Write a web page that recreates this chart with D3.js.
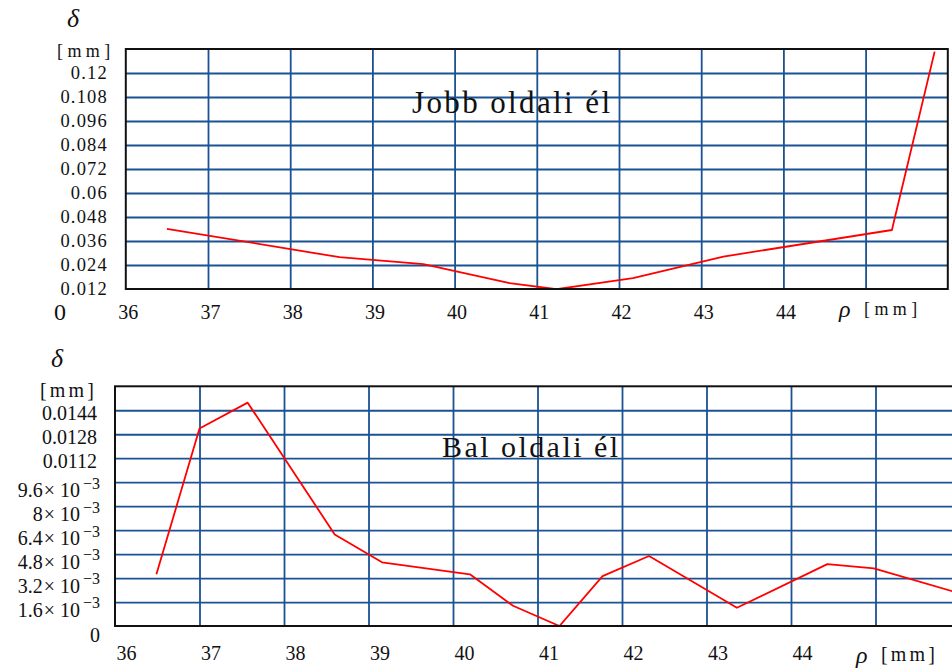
<!DOCTYPE html>
<html><head><meta charset="utf-8">
<script src="https://cdn.jsdelivr.net/npm/d3@7"></script>
<style>
body{margin:0;background:#fff}
svg{display:block}
text{font-family:"Liberation Serif","Times New Roman",serif;fill:#111}
</style>
</head><body>
<svg id="c" width="952" height="668"></svg>
<script>
// ---- data ----
const xGridValues = [37,38,39,40,41,42,43,44,45];
const xTickValues = [36,37,38,39,40,41,42,43,44];
const xTickLabels = ["36","37","38","39","40","41","42","43","44"];

const topYTicks  = [0.012,0.024,0.036,0.048,0.06,0.072,0.084,0.096,0.108,0.12];
const topYLabels = ["0.012","0.024","0.036","0.048","0.06","0.072","0.084","0.096","0.108","0.12"];
const topRho   = [36.5, 38.6, 39.62, 40.67, 41.24, 42.17, 43.27, 45.32, 45.84];
const topDelta = [0.0421, 0.0279, 0.0244, 0.0149, 0.0119, 0.0174, 0.0282, 0.0415, 0.1307];

const botYTicks = [0,0.0016,0.0032,0.0048,0.0064,0.008,0.0096,0.0112,0.0128,0.0144];
const botYMant  = ["0","1.6","3.2","4.8","6.4","8","9.6","0.0112","0.0128","0.0144"];
const botYExp   = ["","−3","−3","−3","−3","−3","−3","","",""];
const botRho   = [36.49, 37.0, 37.57, 38.6, 39.16, 40.2, 40.71, 41.26, 41.77, 42.32, 43.36, 44.43, 44.98, 45.92];
const botDelta = [0.00345, 0.01318, 0.01491, 0.00611, 0.00425, 0.00345, 0.00135, 0.0, 0.00333, 0.00467, 0.00122, 0.00413, 0.00385, 0.0023];

const svg = d3.select("#c");
const gridColor = "#1a5293";
const FF = '"Liberation Serif","Times New Roman",serif';

function panel(o){
  const x = d3.scaleLinear().domain([36,46]).range([o.left, o.right]);
  const y = d3.scaleLinear().domain(o.yDomain).range([o.bottom, o.top]);
  const g = svg.append("g");
  const clipId = "clip"+o.id;
  g.append("clipPath").attr("id",clipId).append("rect")
    .attr("x",o.left).attr("y",o.top).attr("width",o.right-o.left).attr("height",o.bottom-o.top);

  // horizontal grid
  const hg = g.append("g").attr("transform",`translate(${o.left},0)`)
    .call(d3.axisLeft(y).tickValues(o.yTicks.filter(v=>y(v) < o.bottom-2)).tickSize(-(o.right-o.left)).tickFormat(""));
  hg.select(".domain").remove();
  hg.selectAll("line").attr("stroke",gridColor).attr("stroke-width",1.8);
  // vertical grid
  const vg = g.append("g").attr("transform",`translate(0,${o.bottom})`)
    .call(d3.axisBottom(x).tickValues(xGridValues).tickSize(-(o.bottom-o.top)).tickFormat(""));
  vg.select(".domain").remove();
  vg.selectAll("line").attr("stroke",gridColor).attr("stroke-width",1.8);

  // data line
  const pts = o.rho.map((r,i)=>[r,o.delta[i]]);
  g.append("path").datum(pts)
    .attr("clip-path",`url(#${clipId})`)
    .attr("fill","none").attr("stroke","#ff0000").attr("stroke-width",1.8)
    .attr("stroke-linejoin","round")
    .attr("d", d3.line().x(d=>x(d[0])).y(d=>y(d[1])));

  // frame
  g.append("rect").attr("x",o.left).attr("y",o.top)
    .attr("width",o.right-o.left).attr("height",o.bottom-o.top)
    .attr("fill","none").attr("stroke","#111").attr("stroke-width",2);

  // x tick labels
  const xa = g.append("g").attr("transform",`translate(0,${o.bottom})`)
    .call(d3.axisBottom(x).tickValues(xTickValues).tickSize(0).tickFormat((d,i)=>xTickLabels[i]));
  xa.select(".domain").remove();
  xa.attr("font-family",FF);
  xa.selectAll("text").attr("y",o.xLabelY).attr("dy",0).attr("dx",o.xLabelDx)
    .style("font-size","20px").style("font-family",FF).attr("fill","#111");

  // y tick labels
  const ya = g.append("g").attr("transform",`translate(${o.yLabelX},0)`)
    .call(d3.axisLeft(y).tickValues(o.yTicks).tickSize(0).tickPadding(0).tickFormat(""));
  ya.select(".domain").remove();
  ya.attr("font-family",FF);
  ya.selectAll(".tick text").each(function(d,i){
    const t = d3.select(this).attr("x",0).attr("dy",0)
      .style("font-family",FF).attr("fill","#111")
      .style("font-size",o.yFont+"px").style("letter-spacing",o.yLS+"px");
    o.yLabel(t,i);
  });

  // axis titles
  g.append("text").attr("x",o.deltaX).attr("y",o.deltaY)
    .style("font-style","italic").style("font-size","26px").text("δ");
  g.append("text").attr("x",o.mmX).attr("y",o.mmY)
    .style("font-size",o.mmFont+"px").style("letter-spacing",o.mmLS+"px").text("[mm]");
  g.append("text").attr("x",o.rhoX).attr("y",o.rhoY)
    .style("font-style","italic").style("font-size","24px").text("ρ");
  g.append("text").attr("x",o.rhoX+25).attr("y",o.rhoY-2)
    .style("font-size",o.mmFont+"px").style("letter-spacing",o.mmLS+"px").text("[mm]");

  // in-plot title
  g.append("text").attr("x",o.titleX).attr("y",o.titleY)
    .attr("textLength",o.titleLen).attr("lengthAdjust","spacing")
    .style("font-size",o.titleFont+"px").text(o.title);
  return {x,y,g};
}

// top panel
const P1 = panel({
  id:1, left:125.8, right:947.8, top:49, bottom:289, yDomain:[0.012,0.132],
  yTicks: topYTicks, rho: topRho, delta: topDelta,
  xLabelY: 30, xLabelDx: "2px",
  yLabelX: 108, yFont: 18.5, yLS: 1.2,
  yLabel: (t,i)=>{ t.attr("y",5).attr("text-anchor","end").text(topYLabels[i]); },
  deltaX: 67, deltaY: 27, mmX: 57, mmY: 57, mmFont: 18, mmLS: 4.4,
  rhoX: 839, rhoY: 317,
  title: "Jobb oldali él", titleX: 412, titleY: 113, titleLen: 198, titleFont: 31
});
// "0" label at value 0 of the top panel
P1.g.append("text").attr("x",54).attr("y",P1.y(0)+7)
  .style("font-size","24px").text("0");

// bottom panel
const P2 = panel({
  id:2, left:115, right:960, top:386.3, bottom:626, yDomain:[0,0.016],
  yTicks: botYTicks, rho: botRho, delta: botDelta,
  xLabelY: 34, xLabelDx: "11px",
  yLabelX: 100, yFont: 20, yLS: 0,
  yLabel: (t,i)=>{
    t.attr("text-anchor","end");
    if(botYExp[i]){
      t.attr("y",14.4);
      t.append("tspan").text(botYMant[i]);
      t.append("tspan").attr("dx",1).text("×");
      t.append("tspan").attr("dx",5).text("10");
      t.append("tspan").attr("dx",3).attr("dy",-8.5).style("font-size","16px").text(botYExp[i]);
    } else if(i===0){
      t.attr("y",15.5).text(botYMant[i]);
    } else {
      t.attr("x",-3).attr("y",9.5).text(botYMant[i]);
    }
  },
  deltaX: 51, deltaY: 367, mmX: 40, mmY: 397, mmFont: 20, mmLS: 3.2,
  rhoX: 856, rhoY: 663,
  title: "Bal oldali él", titleX: 442, titleY: 457, titleLen: 176, titleFont: 30
});
</script>
</body></html>
